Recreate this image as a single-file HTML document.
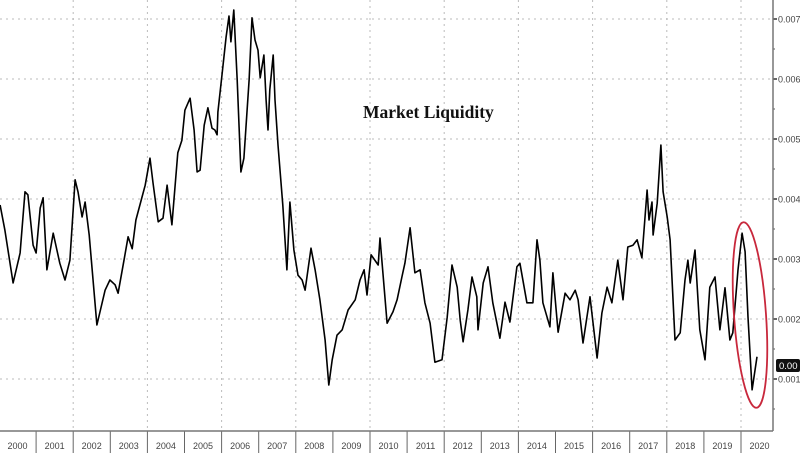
<!DOCTYPE html>
<html><head><meta charset="utf-8"><style>
html,body{margin:0;padding:0;background:#fff;}
svg{display:block;}
</style></head><body>
<svg id="chart" width="800" height="453" viewBox="0 0 800 453" xmlns="http://www.w3.org/2000/svg">
<g id="grid"></g>
<g id="axes"></g>
<text x="363" y="118" font-family="Liberation Serif, serif" font-weight="bold" font-size="17.5" fill="#111">Market Liquidity</text>
<g id="series"></g>
<ellipse cx="750" cy="315" rx="16" ry="93" transform="rotate(-4 750 315)" fill="none" stroke="#c8283c" stroke-width="1.8"/>
<rect x="776" y="359" width="24" height="13" rx="2" fill="#111"/>
<text x="779" y="369" font-family="Liberation Sans, sans-serif" font-size="9.5" fill="#fff">0.00</text>
</svg>
<script>
const years = [2000,2001,2002,2003,2004,2005,2006,2007,2008,2009,2010,2011,2012,2013,2014,2015,2016,2017,2018,2019,2020];
const yTicks = [0.001,0.002,0.003,0.004,0.005,0.006,0.007];
const yTickLabels = ["0.001","0.002","0.003","0.004","0.005","0.006","0.007"];
const dates = [0.03,0.16,0.38,0.57,0.70,0.78,0.92,1.00,1.11,1.19,1.29,1.46,1.64,1.78,1.91,2.05,2.13,2.24,2.32,2.43,2.64,2.86,2.99,3.13,3.21,3.37,3.48,3.59,3.69,3.94,4.07,4.15,4.29,4.42,4.53,4.66,4.82,4.93,5.01,5.15,5.26,5.34,5.42,5.53,5.63,5.74,5.82,5.88,5.90,6.01,6.12,6.20,6.25,6.33,6.42,6.52,6.60,6.74,6.82,6.90,6.98,7.04,7.14,7.20,7.25,7.30,7.39,7.44,7.52,7.65,7.76,7.84,7.95,8.06,8.17,8.25,8.41,8.52,8.65,8.79,8.89,8.98,9.11,9.25,9.41,9.60,9.73,9.84,9.92,10.03,10.22,10.27,10.46,10.62,10.73,10.86,10.94,11.08,11.21,11.35,11.48,11.62,11.75,11.94,12.08,12.21,12.35,12.43,12.51,12.64,12.75,12.88,12.91,13.05,13.18,13.31,13.50,13.64,13.77,13.96,14.04,14.23,14.39,14.50,14.58,14.66,14.85,14.93,15.07,15.26,15.39,15.53,15.61,15.74,15.93,16.12,16.25,16.39,16.52,16.68,16.82,16.95,17.09,17.20,17.33,17.47,17.52,17.60,17.63,17.74,17.84,17.90,18.01,18.09,18.22,18.36,18.49,18.57,18.63,18.76,18.89,19.03,19.16,19.30,19.43,19.57,19.70,19.78,19.92,20.03,20.11,20.19,20.30,20.43];
const values = [3.90,3.48,2.60,3.10,4.12,4.07,3.23,3.10,3.85,4.02,2.82,3.43,2.93,2.65,2.98,4.32,4.12,3.70,3.95,3.40,1.90,2.48,2.65,2.57,2.43,2.98,3.37,3.17,3.65,4.23,4.68,4.27,3.62,3.68,4.23,3.57,4.77,4.98,5.48,5.68,5.15,4.45,4.48,5.23,5.52,5.18,5.15,5.07,5.45,6.07,6.70,7.05,6.62,7.15,5.98,4.45,4.68,5.98,7.02,6.65,6.48,6.02,6.40,5.65,5.15,5.82,6.40,5.65,4.90,3.90,2.82,3.95,3.15,2.73,2.65,2.48,3.18,2.82,2.32,1.65,0.90,1.32,1.73,1.82,2.15,2.32,2.65,2.82,2.40,3.07,2.90,3.35,1.93,2.12,2.32,2.70,2.93,3.52,2.77,2.82,2.27,1.93,1.28,1.32,2.03,2.90,2.53,1.98,1.62,2.15,2.70,2.37,1.82,2.60,2.87,2.27,1.68,2.28,1.95,2.87,2.93,2.27,2.27,3.32,2.98,2.27,1.87,2.77,1.78,2.43,2.32,2.48,2.32,1.60,2.37,1.35,2.10,2.53,2.27,2.98,2.32,3.20,3.23,3.32,3.02,4.15,3.65,3.95,3.40,3.93,4.90,4.12,3.70,3.32,1.65,1.77,2.65,2.98,2.60,3.15,1.82,1.32,2.53,2.70,1.82,2.52,1.65,1.77,2.82,3.43,3.12,2.03,0.82,1.37];

const NS = "http://www.w3.org/2000/svg";
const xScale = t => -1 + 37.1 * t;
const yScale = v => 19 + (0.007 - v) * 60000;
const axisX = 773, axisY = 431;
function mk(tag, attrs, parent){ const e=document.createElementNS(NS,tag); for(const k in attrs) e.setAttribute(k,attrs[k]); parent.appendChild(e); return e; }
const grid=document.getElementById('grid'), axes=document.getElementById('axes'), series=document.getElementById('series');

yTicks.forEach((v,i)=>{
  const y=yScale(v);
  const g=mk('line',{x1:0,x2:axisX,y1:y,y2:y,stroke:'#bbb','stroke-width':1,'stroke-dasharray':'2,4'},grid);
  
  
  const t=mk('line',{x1:axisX,x2:axisX+4,y1:y,y2:y,stroke:'#333','stroke-width':1.5},axes);
  
  
  const m=mk('line',{x1:axisX,x2:axisX+2,y1:y+30,y2:y+30,stroke:'#555','stroke-width':1},axes);
  
  
  const l=mk('text',{x:axisX+5,y:y+3.5,'font-family':'Liberation Sans, sans-serif','font-size':9,fill:'#444'},axes);
  l.textContent=yTickLabels[i];
  
  
});
const m0=mk('line',{x1:axisX,x2:axisX+2,y1:yScale(0.007)-30,y2:yScale(0.007)-30,stroke:'#555'},axes);



years.forEach((yr,i)=>{
  const x=xScale(yr-2000);
  if(i%2===0 && i>0){
    const g=mk('line',{x1:x,x2:x,y1:0,y2:axisY,stroke:'#bbb','stroke-width':1,'stroke-dasharray':'2,4'},grid);
    
    
  }
  if(i>0){
    const d=mk('line',{x1:x,x2:x,y1:axisY,y2:453,stroke:'#666','stroke-width':1},axes);
    
    
  }
  const l=mk('text',{x:x+18.5,y:449,'text-anchor':'middle','font-family':'Liberation Sans, sans-serif','font-size':9,fill:'#444'},axes);
  l.textContent=String(yr);
  
  
});
const ax=mk('line',{x1:0,x2:axisX,y1:axisY,y2:axisY,stroke:'#777','stroke-width':1.5},axes);


const ay=mk('line',{x1:axisX,x2:axisX,y1:0,y2:axisY,stroke:'#777','stroke-width':1.5},axes);



const pts=dates.map((t,i)=>xScale(t).toFixed(1)+','+yScale(values[i]/1000).toFixed(1)).join(' ');
const line=mk('polyline',{points:pts,fill:'none',stroke:'#000','stroke-width':1.6,'stroke-linejoin':'round'},series);


</script>
</body></html>
